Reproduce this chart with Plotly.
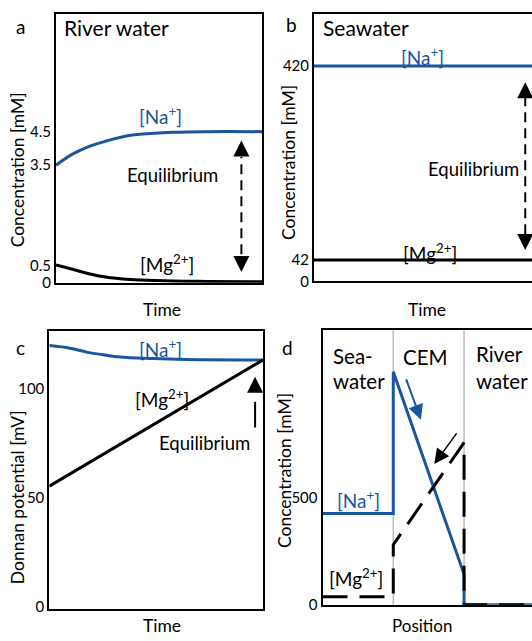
import plotly.graph_objects as go

# ---------------- data ----------------
# panel a: river water (concentration, mM) vs normalised time
time_a = [0, 0.08, 0.165, 0.248, 0.325, 0.408, 0.568, 0.733, 1.0]
na_river = [3.5, 3.83, 4.07, 4.23, 4.35, 4.42, 4.48, 4.5, 4.5]
mg_river = [0.53, 0.40, 0.26, 0.16, 0.11, 0.08, 0.05, 0.04, 0.03]
ticks_a = [0, 0.5, 3.5, 4.5]
ticktext_a = ["0", "0.5", "3.5", "4.5"]

# panel b: seawater
time_b = [0, 1]
na_sea = [420, 420]
mg_sea = [42, 42]
ticks_b = [0, 42, 420]

# panel c: Donnan potential (mV)
time_c = [0, 0.097, 0.175, 0.252, 0.331, 0.485, 0.644, 1.0]
na_donnan = [120, 118.8, 117, 115.8, 114.7, 114, 113.6, 113.4]
time_c_mg = [0, 1.0]
mg_donnan = [55.3, 113.4]
ticks_c = [0, 50, 100]

# panel d: concentration profile across the membrane
pos_d = [0, 1, 1, 2, 2, 2.96]
na_profile = [427, 427, 1091, 142, 0, 0]
mg_profile = [37, 37, 281, 759, 0, 0]
ticks_d = [0, 500]
boundaries_d = [1, 2]

BLUE = "#1a55a0"
FONT = "Lato"
W, H = 532, 641


def px(x):
    return x / W


def py(y):
    return 1 - y / H


fig = go.Figure()

# panel a
fig.add_trace(go.Scatter(x=time_a, y=na_river, mode="lines", line=dict(color=BLUE, width=3, shape="spline"),
                         xaxis="x", yaxis="y"))
fig.add_trace(go.Scatter(x=time_a, y=mg_river, mode="lines", line=dict(color="black", width=3, shape="spline"),
                         xaxis="x", yaxis="y"))
# panel b
fig.add_trace(go.Scatter(x=time_b, y=na_sea, mode="lines", line=dict(color=BLUE, width=3), xaxis="x2", yaxis="y2"))
fig.add_trace(go.Scatter(x=time_b, y=mg_sea, mode="lines", line=dict(color="black", width=3), xaxis="x2", yaxis="y2"))
# panel c
fig.add_trace(go.Scatter(x=time_c, y=na_donnan, mode="lines", line=dict(color=BLUE, width=3, shape="spline"),
                         xaxis="x3", yaxis="y3"))
fig.add_trace(go.Scatter(x=time_c_mg, y=mg_donnan, mode="lines", line=dict(color="black", width=3),
                         xaxis="x3", yaxis="y3"))
# panel d
fig.add_trace(go.Scatter(x=pos_d, y=na_profile, mode="lines", line=dict(color=BLUE, width=3),
                         xaxis="x4", yaxis="y4"))
fig.add_trace(go.Scatter(x=pos_d, y=mg_profile, mode="lines", line=dict(color="black", width=3, dash="25px,12px"),
                         xaxis="x4", yaxis="y4"))

# dashed arrow shafts
fig.add_trace(go.Scatter(x=[0.9, 0.9], y=[0.85, 3.75], mode="lines",
                         line=dict(color="black", width=2, dash="10px,6px"), xaxis="x", yaxis="y"))
fig.add_trace(go.Scatter(x=[0.969, 0.969], y=[92, 358], mode="lines",
                         line=dict(color="black", width=2, dash="10px,6px"), xaxis="x2", yaxis="y2"))
fig.add_trace(go.Scatter(x=[0.963, 0.963], y=[82.3, 94.1], mode="lines",
                         line=dict(color="black", width=2), xaxis="x3", yaxis="y3"))

axis_common = dict(showline=True, linecolor="black", linewidth=2, showgrid=False, zeroline=False,
                   ticks="", tickfont=dict(family=FONT, size=15, color="black"))

fig.update_layout(
    width=W, height=H, margin=dict(l=0, r=0, t=0, b=0),
    paper_bgcolor="white", plot_bgcolor="white", showlegend=False,
    font=dict(family=FONT, color="black"),
    xaxis=dict(domain=[px(56), px(262)], range=[0, 1], showticklabels=False, mirror=True, anchor="y", **axis_common),
    yaxis=dict(domain=[py(286.3), py(14)], range=[0, 8.01], tickvals=ticks_a, ticktext=ticktext_a,
               mirror=True, anchor="x", **axis_common),
    xaxis2=dict(domain=[px(314), 1], range=[0, 1], showticklabels=False, mirror=True, anchor="y2", **axis_common),
    yaxis2=dict(domain=[py(285), py(14)], range=[0, 522], tickvals=ticks_b, mirror=False, anchor="x2",
                **axis_common),
    xaxis3=dict(domain=[px(49.3), px(263)], range=[0, 1], showticklabels=False, mirror=True, anchor="y3",
                **axis_common),
    yaxis3=dict(domain=[py(617), py(335)], range=[-1.4, 126.8], tickvals=ticks_c, mirror=True, anchor="x3",
                **axis_common),
    xaxis4=dict(domain=[px(322.5), 1], range=[0, 2.96], showticklabels=False, mirror=True, anchor="y4",
                **axis_common),
    yaxis4=dict(domain=[py(612.3), py(334)], range=[0, 1288], tickvals=ticks_d, mirror=False, anchor="x4",
                **axis_common),
)

# membrane boundaries in panel d
for b in boundaries_d:
    fig.add_shape(type="line", xref="x4", yref="y4 domain", x0=b, x1=b, y0=0, y1=1,
                  line=dict(color="#bdbdbd", width=1.5), layer="below")

ann = []


def text(x, y, s, size=17, color="black", xanchor="center", angle=0):
    ann.append(dict(x=px(x), y=py(y), xref="paper", yref="paper", text=s, showarrow=False,
                    xanchor=xanchor, yanchor="middle", textangle=angle,
                    font=dict(family=FONT, size=size, color=color)))


# panel letters and headings
text(20, 27, "a", 19)
text(62, 28, "River water", 21, xanchor="left")
text(291, 25, "b", 19)
text(321, 28, "Seawater", 21, xanchor="left")
text(20, 352, "c", 19)
text(287, 352, "d", 19)

# panel a labels
text(160, 117, "[Na<sup>+</sup>]", 19, BLUE)
text(172, 177, "Equilibrium", 18.5)
text(167, 267, "[Mg<sup>2+</sup>]", 19)
text(17.5, 172, "Concentration [mM]", 17.5, angle=-90)
text(162, 313, "Time", 17.5)

# panel b labels
text(422, 57, "[Na<sup>+</sup>]", 19, BLUE)
text(473, 171, "Equilibrium", 18.5)
text(430, 256, "[Mg<sup>2+</sup>]", 19)
text(289, 165, "Concentration [mM]", 17.5, angle=-90)
text(427, 313, "Time", 17.5)

# panel c labels
text(160, 353, "[Na<sup>+</sup>]", 19, BLUE)
text(162, 404, "[Mg<sup>2+</sup>]", 19)
text(204, 449, "Equilibrium", 18.5)
text(17.5, 504, "Donnan potential [mV]", 17.5, angle=-90)
text(162, 633, "Time", 17.5)

# panel d labels
text(331, 360, "Sea-", 20.5, xanchor="left")
text(331, 386, "water", 20.5, xanchor="left")
text(425, 362, "CEM", 20.5)
text(474, 358, "River", 20.5, xanchor="left")
text(474, 386, "water", 20.5, xanchor="left")
text(358, 506, "[Na<sup>+</sup>]", 19, BLUE)
text(356, 585, "[Mg<sup>2+</sup>]", 19)
text(284, 477, "Concentration [mM]", 17.5, angle=-90)
text(422, 633, "Position", 17)


def arrow(xr, yr, x, y, ax, ay, color="black", width=2, size=1.6):
    ann.append(dict(x=x, y=y, ax=ax, ay=ay, xref=xr, yref=yr, axref=xr, ayref=yr, text="",
                    showarrow=True, arrowhead=2, arrowsize=size, arrowwidth=width, arrowcolor=color,
                    standoff=0))


# equilibrium arrow heads
arrow("x", "y", 0.9, 4.24, 0.9, 3.8)
arrow("x", "y", 0.9, 0.32, 0.9, 0.78)
arrow("x2", "y2", 0.969, 388.6, 0.969, 360)
arrow("x2", "y2", 0.969, 61.1, 0.969, 90)
arrow("x3", "y3", 0.963, 105.6, 0.963, 98.5)
# flux arrows in panel d
arrow("x4", "y4", 1.391, 867, 1.175, 1063, BLUE, 2, 1.5)
arrow("x4", "y4", 1.579, 659, 1.91, 810, "black", 1.5, 2.0)

fig.update_layout(annotations=ann)
fig.write_html("out.html", config={"displayModeBar": False},
               post_script="document.body.style.margin='0px';")
